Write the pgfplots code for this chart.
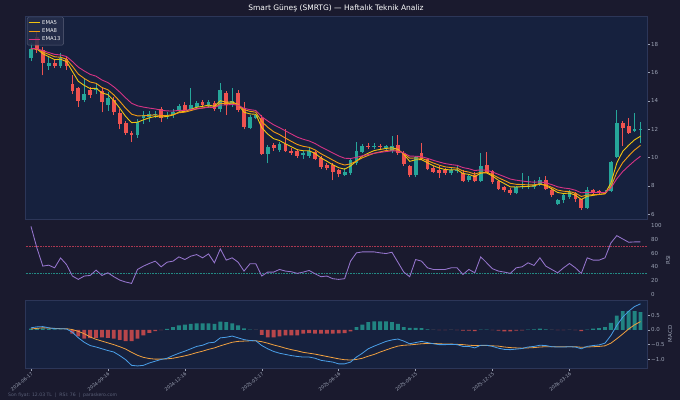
\documentclass[border=0pt]{standalone}
\usepackage{pgfplots}
\pgfplotsset{compat=1.18}
\usepackage{pgfplotstable}
\usepgfplotslibrary{fillbetween}
\usepackage{fontspec}
\setmainfont{DejaVu Sans}

\definecolor{figbg}{HTML}{1A1A2E}
\definecolor{axbg}{HTML}{16213E}
\definecolor{spine}{HTML}{2C3658}
\definecolor{cup}{HTML}{26A69A}
\definecolor{cdn}{HTML}{EF5350}
\definecolor{ema5}{HTML}{F1C40F}
\definecolor{ema8}{HTML}{F39C12}
\definecolor{ema13}{HTML}{D63384}
\definecolor{rsic}{HTML}{9575CD}
\definecolor{macdc}{HTML}{4A9FE8}
\definecolor{sigc}{HTML}{F0A040}
\definecolor{tickc}{HTML}{9CA3B5}
\definecolor{rline}{HTML}{E94560}
\definecolor{footc}{HTML}{5A6078}
\definecolor{legfill}{HTML}{262E4C}
\definecolor{legdraw}{HTML}{5A6078}

\newcommand\tickfont{\fontsize{5.5bp}{6.5bp}\selectfont}
\newcommand\datefont{\fontsize{4.6bp}{5.6bp}\selectfont}
\newcommand\legfont{\fontsize{5.3bp}{6.3bp}\selectfont}

\pgfplotstableread{
i o h l c
0 17.0 18.1 16.8 17.7
3 16.5 17.2 16.2 16.7
5 16.5 17.4 16.3 17.0
9 14.1 15.6 13.9 14.5
11 14.75 15.3 14.5 14.95
13 13.75 14.6 13.3 14.2
18 11.6 12.7 11.4 12.55
19 12.8 13.3 12.4 13.0
20 12.85 13.3 12.5 13.1
21 13.0 13.3 12.8 13.1
23 12.9 13.2 12.7 13.0
24 13.0 13.4 12.8 13.2
25 13.35 13.8 13.2 13.65
27 13.4 14.9 13.3 13.7
28 13.6 14.0 13.4 13.85
30 13.7 14.1 13.5 13.9
32 13.4 15.3 13.2 14.8
34 13.8 14.9 13.6 14.0
37 12.1 13.0 12.0 12.85
38 12.8 13.1 12.7 13.0
40 10.25 10.9 9.6 10.75
42 10.55 11.1 10.4 10.95
46 10.2 10.5 9.9 10.35
47 10.15 10.7 10.0 10.5
53 8.8 9.3 8.7 9.0
54 8.9 9.9 8.8 9.85
55 9.65 11.1 9.5 10.45
56 10.4 10.95 10.3 10.8
58 10.75 11.0 10.6 10.85
60 10.7 10.9 10.55 10.8
61 10.5 11.55 10.3 10.8
65 8.75 10.1 8.6 10.05
71 8.95 9.3 8.8 9.1
72 9.05 9.5 8.9 9.15
74 8.45 8.8 8.3 8.7
76 8.35 10.35 8.25 9.4
82 7.5 8.0 7.4 7.9
83 7.9 8.9 7.8 8.0
84 7.9 8.7 7.8 8.0
85 7.95 8.4 7.8 8.1
86 8.1 8.6 8.0 8.4
89 6.75 7.1 6.65 7.0
90 7.0 7.5 6.8 7.35
91 7.25 7.7 7.1 7.55
94 6.45 7.9 6.4 7.7
97 7.5 7.7 7.4 7.6
98 7.65 9.75 7.55 9.7
99 10.05 13.35 10.0 12.45
102 11.9 13.15 11.8 12.0
103 11.95 12.5 11.0 12.03
}\upTab

\pgfplotstableread{
i o h l c
1 18.5 18.9 17.4 17.6
2 17.6 17.8 15.8 16.7
4 16.7 16.9 16.3 16.5
6 16.95 17.1 16.2 16.45
7 15.2 15.8 14.5 14.7
8 14.9 15.0 13.6 14.0
10 14.8 15.0 14.2 14.45
12 14.7 14.9 13.2 13.9
14 14.05 14.3 13.0 13.2
15 13.15 13.4 12.0 12.4
16 12.45 12.6 11.6 11.75
17 11.75 11.9 11.1 11.6
22 13.45 13.6 12.5 12.8
26 13.7 13.9 13.2 13.35
29 13.9 14.1 13.6 13.75
31 13.85 14.0 13.3 13.45
33 14.55 14.7 13.0 13.7
35 14.55 14.8 13.2 13.35
36 13.5 13.9 12.0 12.15
39 12.8 13.0 10.2 10.25
41 10.9 11.0 10.5 10.7
43 10.95 12.0 10.4 10.5
44 10.5 10.7 10.2 10.35
45 10.5 10.6 10.0 10.15
48 10.4 10.5 9.8 9.9
49 9.95 10.1 9.2 9.35
50 9.45 9.6 9.1 9.3
51 9.5 9.6 8.4 9.0
52 9.1 9.2 8.6 8.85
57 10.85 11.0 10.6 10.75
59 10.85 10.95 10.6 10.75
62 10.9 11.6 10.2 10.35
63 10.35 10.5 9.4 9.55
64 9.4 9.5 8.6 8.75
66 10.35 11.05 9.8 9.9
67 9.9 10.0 9.1 9.2
68 9.3 9.4 8.9 9.0
69 9.1 9.4 8.55 8.95
70 9.1 9.3 8.8 8.95
73 8.95 9.1 8.25 8.35
75 8.8 9.0 8.25 8.35
77 9.5 10.4 8.9 8.95
78 9.05 9.1 8.15 8.25
79 8.35 8.4 7.7 7.8
80 7.9 8.0 7.55 7.7
81 7.75 7.85 7.35 7.5
87 8.45 8.7 7.7 7.8
88 7.75 7.85 7.2 7.35
92 7.5 7.6 6.9 7.05
93 7.05 7.1 6.3 6.45
95 7.7 7.8 7.4 7.5
96 7.65 7.75 7.4 7.5
100 12.42 12.6 10.85 12.1
101 12.25 12.8 11.7 11.75
}\dnTab

\pgfplotstableread{
i e5 e8 e13
0 17.70 17.70 17.70
1 17.67 17.68 17.69
2 17.34 17.46 17.55
3 17.13 17.29 17.42
4 16.92 17.12 17.29
5 16.95 17.09 17.25
6 16.78 16.95 17.14
7 16.09 16.45 16.79
8 15.39 15.90 16.39
9 15.10 15.59 16.12
10 14.88 15.34 15.88
11 14.90 15.25 15.75
12 14.57 14.95 15.48
13 14.45 14.79 15.30
14 14.03 14.43 15.00
15 13.49 13.98 14.63
16 12.91 13.49 14.22
17 12.47 13.07 13.84
18 12.50 12.95 13.66
19 12.67 12.96 13.57
20 12.81 12.99 13.50
21 12.91 13.02 13.44
22 12.87 12.97 13.35
23 12.91 12.98 13.30
24 13.01 13.03 13.29
25 13.22 13.17 13.34
26 13.27 13.21 13.34
27 13.41 13.32 13.39
28 13.56 13.44 13.46
29 13.62 13.51 13.50
30 13.71 13.59 13.56
31 13.63 13.56 13.54
32 14.02 13.84 13.72
33 13.91 13.81 13.72
34 13.94 13.85 13.76
35 13.74 13.74 13.70
36 13.21 13.39 13.48
37 13.09 13.27 13.39
38 13.06 13.21 13.33
39 12.12 12.55 12.89
40 11.67 12.15 12.59
41 11.34 11.83 12.32
42 11.21 11.63 12.12
43 10.98 11.38 11.89
44 10.77 11.15 11.67
45 10.56 10.93 11.45
46 10.49 10.80 11.30
47 10.49 10.73 11.18
48 10.30 10.55 11.00
49 9.98 10.28 10.76
50 9.75 10.06 10.55
51 9.50 9.83 10.33
52 9.29 9.61 10.12
53 9.19 9.48 9.96
54 9.41 9.56 9.94
55 9.76 9.76 10.02
56 10.11 9.99 10.13
57 10.32 10.16 10.22
58 10.50 10.31 10.31
59 10.58 10.41 10.37
60 10.65 10.50 10.43
61 10.70 10.56 10.48
62 10.59 10.52 10.47
63 10.24 10.30 10.33
64 9.74 9.96 10.11
65 9.85 9.98 10.10
66 9.86 9.96 10.07
67 9.64 9.79 9.95
68 9.43 9.62 9.81
69 9.27 9.47 9.69
70 9.16 9.35 9.58
71 9.14 9.30 9.51
72 9.15 9.26 9.46
73 8.88 9.06 9.30
74 8.82 8.98 9.22
75 8.66 8.84 9.09
76 8.91 8.97 9.14
77 8.92 8.96 9.11
78 8.70 8.80 8.99
79 8.40 8.58 8.82
80 8.17 8.39 8.66
81 7.94 8.19 8.49
82 7.93 8.12 8.41
83 7.95 8.10 8.35
84 7.97 8.08 8.30
85 8.01 8.08 8.27
86 8.14 8.15 8.29
87 8.03 8.07 8.22
88 7.80 7.91 8.10
89 7.54 7.71 7.94
90 7.47 7.63 7.86
91 7.50 7.61 7.81
92 7.35 7.49 7.70
93 7.05 7.26 7.52
94 7.27 7.36 7.55
95 7.34 7.39 7.54
96 7.40 7.41 7.54
97 7.46 7.45 7.54
98 8.21 7.95 7.85
99 9.62 8.95 8.51
100 10.45 9.65 9.02
101 10.88 10.12 9.41
102 11.26 10.54 9.78
103 11.51 10.87 10.10
}\emaTab

\pgfplotstableread{
i r
0 99.5
1 67.8
2 41.0
3 42.4
4 38.5
5 53.0
6 43.4
7 26.4
8 21.5
9 26.4
10 27.3
11 35.1
12 27.3
13 31.2
14 25.4
15 20.5
16 17.6
17 15.6
18 36.1
19 41.0
20 44.9
21 48.3
22 40.0
23 46.8
24 48.3
25 54.6
26 50.7
27 55.6
28 58.0
29 53.2
30 59.0
31 45.9
32 66.3
33 49.8
34 53.2
35 46.8
36 33.7
37 44.4
38 44.4
39 26.4
40 32.2
41 32.2
42 36.1
43 33.7
44 32.7
45 30.3
46 32.2
47 34.6
48 29.8
49 25.4
50 26.4
51 22.5
52 21.5
53 22.5
54 48.3
55 60.5
56 61.9
57 61.9
58 61.9
59 60.5
60 59.5
61 61.4
62 46.8
63 32.2
64 25.4
65 50.7
66 48.3
67 38.5
68 36.1
69 36.1
70 36.1
71 38.5
72 38.5
73 28.8
74 36.1
75 31.2
76 54.6
77 45.9
78 37.1
79 33.7
80 32.2
81 30.3
82 38.5
83 40.0
84 45.9
85 42.0
86 53.2
87 41.0
88 36.1
89 31.2
90 38.5
91 44.9
92 38.5
93 30.3
94 53.2
95 49.8
96 49.8
97 53.2
98 75.1
99 85.8
100 80.9
101 76.1
102 76.6
103 76.6
}\rsiTab

\pgfplotstableread{
i m s h
0 0.07 0.03 0.04
1 0.10 0.05 0.06
2 0.11 0.07 0.05
3 0.07 0.06 0.03
4 0.04 0.05 0.02
5 0.04 0.04 0.01
6 0.03 0.04 0.00
7 -0.08 0.01 -0.13
8 -0.27 -0.05 -0.22
9 -0.42 -0.13 -0.30
10 -0.53 -0.24 -0.28
11 -0.58 -0.32 -0.27
12 -0.64 -0.38 -0.25
13 -0.70 -0.44 -0.27
14 -0.75 -0.50 -0.30
15 -0.87 -0.57 -0.34
16 -1.01 -0.65 -0.38
17 -1.20 -0.76 -0.38
18 -1.22 -0.86 -0.30
19 -1.20 -0.93 -0.19
20 -1.12 -0.97 -0.10
21 -1.06 -0.99 -0.04
22 -1.00 -0.99 -0.01
23 -0.96 -0.98 0.03
24 -0.87 -0.96 0.09
25 -0.79 -0.92 0.15
26 -0.72 -0.88 0.18
27 -0.64 -0.83 0.20
28 -0.56 -0.77 0.22
29 -0.52 -0.72 0.22
30 -0.44 -0.66 0.22
31 -0.42 -0.61 0.20
32 -0.27 -0.54 0.28
33 -0.25 -0.48 0.26
34 -0.21 -0.42 0.22
35 -0.27 -0.39 0.15
36 -0.33 -0.38 0.05
37 -0.36 -0.37 0.01
38 -0.37 -0.37 0.00
39 -0.53 -0.40 -0.17
40 -0.64 -0.45 -0.25
41 -0.73 -0.51 -0.25
42 -0.79 -0.56 -0.22
43 -0.83 -0.62 -0.19
44 -0.87 -0.67 -0.19
45 -0.90 -0.71 -0.19
46 -0.92 -0.76 -0.13
47 -0.92 -0.79 -0.11
48 -0.96 -0.82 -0.13
49 -1.03 -0.86 -0.13
50 -1.06 -0.90 -0.13
51 -1.09 -0.94 -0.13
52 -1.15 -0.98 -0.12
53 -1.15 -1.01 -0.11
54 -1.09 -1.02 -0.05
55 -0.92 -1.00 0.09
56 -0.79 -0.96 0.18
57 -0.64 -0.89 0.26
58 -0.55 -0.83 0.29
59 -0.47 -0.75 0.29
60 -0.39 -0.68 0.29
61 -0.34 -0.61 0.26
62 -0.31 -0.55 0.20
63 -0.38 -0.52 0.09
64 -0.47 -0.51 0.07
65 -0.43 -0.49 0.07
66 -0.39 -0.47 0.06
67 -0.43 -0.46 0.02
68 -0.47 -0.46 0.00
69 -0.50 -0.47 -0.01
70 -0.50 -0.48 -0.01
71 -0.49 -0.48 0.00
72 -0.50 -0.49 -0.01
73 -0.56 -0.50 -0.03
74 -0.56 -0.52 -0.03
75 -0.61 -0.53 -0.04
76 -0.52 -0.53 0.01
77 -0.52 -0.53 0.01
78 -0.56 -0.54 -0.01
79 -0.62 -0.55 -0.03
80 -0.66 -0.58 -0.05
81 -0.67 -0.60 -0.05
82 -0.65 -0.61 -0.03
83 -0.63 -0.62 -0.02
84 -0.58 -0.61 0.01
85 -0.56 -0.60 0.02
86 -0.52 -0.58 0.04
87 -0.53 -0.57 0.02
88 -0.57 -0.57 0.00
89 -0.58 -0.57 -0.01
90 -0.58 -0.57 -0.01
91 -0.57 -0.57 0.00
92 -0.58 -0.57 -0.01
93 -0.64 -0.59 -0.04
94 -0.56 -0.58 0.01
95 -0.53 -0.57 0.04
96 -0.51 -0.56 0.06
97 -0.45 -0.54 0.09
98 -0.19 -0.45 0.24
99 0.15 -0.30 0.48
100 0.43 -0.14 0.63
101 0.63 0.03 0.63
102 0.79 0.17 0.63
103 0.88 0.28 0.60
}\macdTab

\pgfplotsset{
  panel/.style={
    scale only axis, width=622bp, anchor=south west,
    xmin=-1.01, xmax=104.1,
    axis background/.style={fill=axbg},
    axis line style={draw=spine, line width=0.6bp},
    tick style={draw=tickc, line width=0.4bp},
    major tick length=2.5bp, tick align=outside,
    ytick pos=right, yticklabel pos=right,
    yticklabel style={font=\tickfont, text=tickc, inner sep=1.5bp},
    xtick=\empty,
  },
  wick/.style={draw=none, mark=none, forget plot,
    error bars/.cd, y dir=plus, y explicit, error mark=none,
    error bar style={draw=#1, line width=0.8bp, solid}},
  body/.style={draw=none, mark=none, forget plot,
    error bars/.cd, y dir=plus, y explicit, error mark=none,
    error bar style={draw=#1, line width=3.8bp, solid}},
}

\begin{document}
\begin{tikzpicture}
\fill[figbg] (0,0) rectangle (680bp,400bp);

% ---------- price panel ----------
\begin{axis}[panel, at={(25bp,181bp)}, height=203bp,
  ymin=5.67, ymax=20.0,
  ytick={6,8,10,12,14,16,18}, yticklabels={6,8,10,12,14,16,18},
  legend cell align=left,
  legend style={at={(0.003,0.996)}, anchor=north west,
    fill=legfill, fill opacity=0.85, text opacity=1, draw=legdraw,
    text=white!85!tickc, font=\legfont, rounded corners=1.5bp,
    inner sep=1.2bp, row sep=-1.2bp, line width=0.4bp},
  legend image code/.code={\draw[#1, line width=0.9bp] (0bp,0bp) -- (11bp,0bp);},
]
\addplot[wick=cup] table[x=i, y=l, y error expr=\thisrow{h}-\thisrow{l}] {\upTab};
\addplot[wick=cdn] table[x=i, y=l, y error expr=\thisrow{h}-\thisrow{l}] {\dnTab};
\addplot[body=cup] table[x=i, y=o, y error expr=\thisrow{c}-\thisrow{o}] {\upTab};
\addplot[body=cdn] table[x=i, y=c, y error expr=\thisrow{o}-\thisrow{c}] {\dnTab};
\addplot[ema5, line width=0.9bp] table[x=i, y=e5] {\emaTab};
\addlegendentry{EMA5}
\addplot[ema8, line width=0.9bp] table[x=i, y=e8] {\emaTab};
\addlegendentry{EMA8}
\addplot[ema13, line width=0.9bp] table[x=i, y=e13] {\emaTab};
\addlegendentry{EMA13}
\end{axis}

% ---------- RSI panel ----------
\begin{axis}[panel, at={(25bp,106bp)}, height=68bp,
  ymin=0, ymax=100,
  ytick={0,20,40,60,80,100}, yticklabels={0,20,40,60,80,100},
]
\addplot[name path=rsi, draw=none, forget plot] table[x=i, y=r] {\rsiTab};
\addplot[name path=l70, draw=none, forget plot] coordinates {(0,70) (103,70)};
\addplot[name path=l30, draw=none, forget plot] coordinates {(0,30) (103,30)};
\begin{scope}
\clip (axis cs:-1,70) rectangle (axis cs:104,100);
\addplot[rline, fill opacity=0.28, draw=none] fill between[of=rsi and l70];
\end{scope}
\begin{scope}
\clip (axis cs:-1,0) rectangle (axis cs:104,30);
\addplot[cup, fill opacity=0.28, draw=none] fill between[of=rsi and l30];
\end{scope}
\addplot[rline, densely dotted, line width=0.6bp, opacity=0.7] coordinates {(-2,70) (106,70)};
\addplot[cup, densely dotted, line width=0.6bp, opacity=0.8] coordinates {(-2,30) (106,30)};
\addplot[rsic, line width=0.85bp] table[x=i, y=r] {\rsiTab};
\end{axis}

% ---------- MACD panel ----------
\begin{axis}[panel, at={(25bp,32bp)}, height=68bp,
  ymin=-1.29, ymax=1.01,
  ytick={-1,-0.5,0,0.5}, yticklabels={−1.0,−0.5,0.0,0.5},
  xtick={0,13,26,39,52,65,78,91},
  xticklabels={2024-06-17,2024-09-16,2024-12-16,2025-03-17,2025-06-16,2025-09-15,2025-12-15,2026-03-16},
  xtick pos=bottom,
  xticklabel style={rotate=40, anchor=north east, font=\datefont, text=tickc, inner sep=0.8bp},
]
\addplot[ybar, bar width=0.65, bar shift=0pt, fill=cup, fill opacity=0.75, draw=none,
  restrict y to domain=0:5] table[x=i, y=h] {\macdTab};
\addplot[ybar, bar width=0.65, bar shift=0pt, fill=cdn, fill opacity=0.75, draw=none,
  restrict y to domain=-5:0] table[x=i, y=h] {\macdTab};
\addplot[sigc, line width=0.8bp] table[x=i, y=s] {\macdTab};
\addplot[macdc, line width=0.8bp] table[x=i, y=m] {\macdTab};
\end{axis}

\node[rotate=90, text=tickc, font=\tickfont] at (668bp,140bp) {RSI};
\node[rotate=90, text=tickc, font=\tickfont] at (670bp,66bp) {MACD};
\node[text=white, font=\fontsize{7.5bp}{9bp}\selectfont] at (336bp,392bp) {Smart Güneş (SMRTG) — Haftalık Teknik Analiz};
\node[anchor=west, text=footc, font=\fontsize{4.6bp}{5.5bp}\selectfont, inner sep=0pt] at (8bp,5bp) {Son fiyat: 12.03 TL \ | \ RSI: 76 \ | \ paraskero.com};

\pgfresetboundingbox
\path[use as bounding box] (0,0) rectangle (680bp,400bp);
\end{tikzpicture}
\end{document}
